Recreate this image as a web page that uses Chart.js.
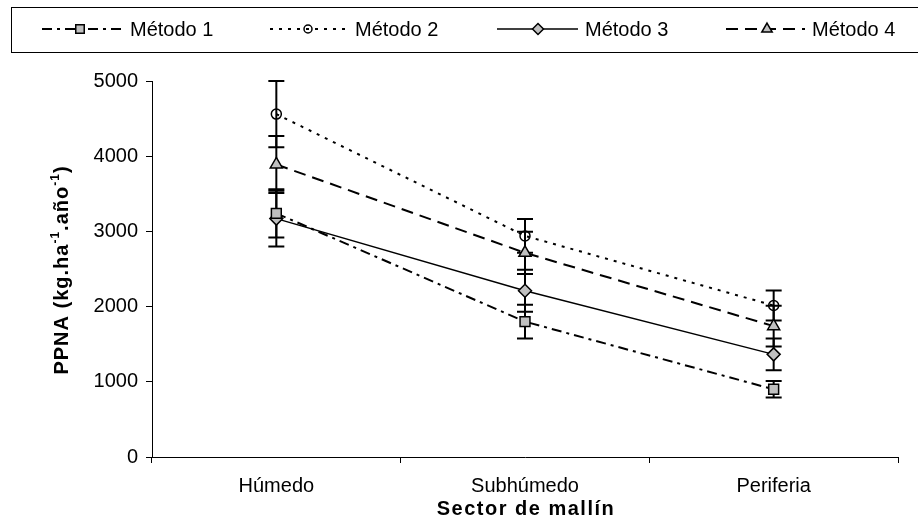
<!DOCTYPE html>
<html>
<head>
<meta charset="utf-8">
<script src="https://cdn.jsdelivr.net/npm/chart.js@4.4.1/dist/chart.umd.min.js"></script>
<style>
html, body { margin: 0; padding: 0; background: #fff; }
#wrap { width: 918px; height: 526px; position: relative; }
</style>
</head>
<body>
<div id="wrap"><canvas id="chart"></canvas></div>
<script>
const sectors = ["Húmedo", "Subhúmedo", "Periferia"];
const metodo1 = [3240, 1800, 900];
const metodo1Err = [320, 225, 110];
const metodo2 = [4560, 2940, 2015];
const metodo2Err = [440, 225, 200];
const metodo3 = [3170, 2210, 1365];
const metodo3Err = [370, 280, 210];
const metodo4 = [3890, 2715, 1740];
const metodo4Err = [380, 280, 270];
const yTicks = [0, 1000, 2000, 3000, 4000, 5000];
const legendNames = ["Método 1", "Método 2", "Método 3", "Método 4"];

const FONT = "'Liberation Sans', Arial, sans-serif";
const GRAY = "#c0c0c0";

// error bars, drawn under the markers
const errorBars = {
    id: "errorBars",
    beforeDatasetsDraw(chart) {
        const ctx = chart.ctx;
        const y = chart.scales.y;
        ctx.save();
        ctx.strokeStyle = "#000";
        ctx.lineWidth = 2;
        chart.data.datasets.forEach((ds, i) => {
            const meta = chart.getDatasetMeta(i);
            meta.data.forEach((pt, j) => {
                const v = ds.data[j], e = ds.err[j];
                const top = y.getPixelForValue(v + e);
                const bot = y.getPixelForValue(v - e);
                ctx.beginPath();
                ctx.moveTo(pt.x, top); ctx.lineTo(pt.x, bot);
                ctx.moveTo(pt.x - 8, top); ctx.lineTo(pt.x + 8, top);
                ctx.moveTo(pt.x - 8, bot); ctx.lineTo(pt.x + 8, bot);
                ctx.stroke();
            });
        });
        ctx.restore();
    }
};

// boxed legend on top, axis titles
const extras = {
    id: "extras",
    afterDraw(chart) {
        const ctx = chart.ctx;
        ctx.save();
        // legend box
        ctx.strokeStyle = "#000";
        ctx.lineWidth = 1;
        ctx.strokeRect(11.5, 7.5, 920, 45);
        const items = [
            { x0: 42, x1: 123, mx: 80, tx: 130 },
            { x0: 270, x1: 348, mx: 308, tx: 355 },
            { x0: 497, x1: 578, mx: 538, tx: 585 },
            { x0: 726, x1: 805, mx: 767, tx: 812 }
        ];
        const ly = 29;
        chart.data.datasets.forEach((ds, i) => {
            const it = items[i];
            ctx.save();
            ctx.strokeStyle = "#000";
            ctx.lineWidth = ds.borderWidth;
            ctx.setLineDash(ds.borderDash || []);
            ctx.beginPath();
            ctx.moveTo(it.x0, ly); ctx.lineTo(it.x1, ly);
            ctx.stroke();
            ctx.setLineDash([]);
            ctx.fillStyle = ds.pointBackgroundColor;
            ctx.strokeStyle = "#000";
            ctx.lineWidth = ds.pointBorderWidth;
            Chart.helpers.drawPoint(ctx, {
                pointStyle: ds.pointStyle,
                radius: ds.pointRadius - 1,
                rotation: 0,
                borderWidth: ds.pointBorderWidth
            }, it.mx, ly);
            ctx.restore();
            ctx.fillStyle = "#000";
            ctx.font = "20px " + FONT;
            ctx.textBaseline = "middle";
            ctx.textAlign = "left";
            ctx.fillText(legendNames[i], it.tx, ly + 1);
        });

        // x title
        ctx.font = "bold 20px " + FONT;
        ctx.letterSpacing = "1.5px";
        ctx.textAlign = "center";
        ctx.textBaseline = "middle";
        ctx.fillText("Sector de mallín", 526, 509);

        // y title with superscripts
        ctx.letterSpacing = "1px";
        ctx.translate(62, 270);
        ctx.rotate(-Math.PI / 2);
        const parts = [
            ["PPNA (kg.ha", false], ["-1", true], [".año", false], ["-1", true], [")", false]
        ];
        const big = "bold 20px " + FONT, small = "bold 12px " + FONT;
        let total = 0;
        parts.forEach(p => { ctx.font = p[1] ? small : big; total += ctx.measureText(p[0]).width; });
        let x = -total / 2;
        ctx.textAlign = "left";
        parts.forEach(p => {
            ctx.font = p[1] ? small : big;
            ctx.fillText(p[0], x, p[1] ? -6 : 0);
            x += ctx.measureText(p[0]).width;
        });
        ctx.restore();
    }
};

new Chart(document.getElementById("chart"), {
    type: "line",
    data: {
        labels: sectors,
        datasets: [
            {
                label: "Método 1", data: metodo1, err: metodo1Err,
                borderColor: "#000", borderWidth: 2, borderDash: [10, 5, 3, 5],
                pointStyle: "rect", pointRadius: 7,
                pointBackgroundColor: GRAY, pointBorderColor: "#000", pointBorderWidth: 1.5
            },
            {
                label: "Método 2", data: metodo2, err: metodo2Err,
                borderColor: "#000", borderWidth: 2, borderDash: [3, 6],
                pointStyle: "circle", pointRadius: 5,
                pointBackgroundColor: "rgba(0,0,0,0)", pointBorderColor: "#000", pointBorderWidth: 1.5
            },
            {
                label: "Método 3", data: metodo3, err: metodo3Err,
                borderColor: "#000", borderWidth: 1.5,
                pointStyle: "rectRot", pointRadius: 6.5,
                pointBackgroundColor: GRAY, pointBorderColor: "#000", pointBorderWidth: 1.5
            },
            {
                label: "Método 4", data: metodo4, err: metodo4Err,
                borderColor: "#000", borderWidth: 2, borderDash: [12, 7],
                pointStyle: "triangle", pointRadius: 7,
                pointBackgroundColor: GRAY, pointBorderColor: "#000", pointBorderWidth: 1.5
            }
        ]
    },
    options: {
        responsive: true,
        maintainAspectRatio: false,
        animation: false,
        layout: { padding: { top: 81, right: 20, left: 0, bottom: 0 } },
        plugins: { legend: { display: false }, tooltip: { enabled: false } },
        scales: {
            x: {
                offset: true,
                grid: { offset: true, drawOnChartArea: false, drawTicks: true, tickLength: 6, color: "#000" },
                border: { color: "#000", width: 1 },
                ticks: { color: "#000", font: { family: FONT, size: 20 }, padding: 11, maxRotation: 0 },
                afterFit: s => { s.height = 69; }
            },
            y: {
                min: 0, max: 5000,
                afterBuildTicks: s => { s.ticks = yTicks.map(v => ({ value: v })); },
                grid: { drawOnChartArea: false, drawTicks: true, tickLength: 6, color: "#000" },
                border: { color: "#000", width: 1 },
                ticks: { color: "#000", font: { family: FONT, size: 20 }, padding: 8, callback: v => String(v) },
                afterFit: s => { s.width = 152; }
            }
        }
    },
    plugins: [errorBars, extras]
});
</script>
</body>
</html>
